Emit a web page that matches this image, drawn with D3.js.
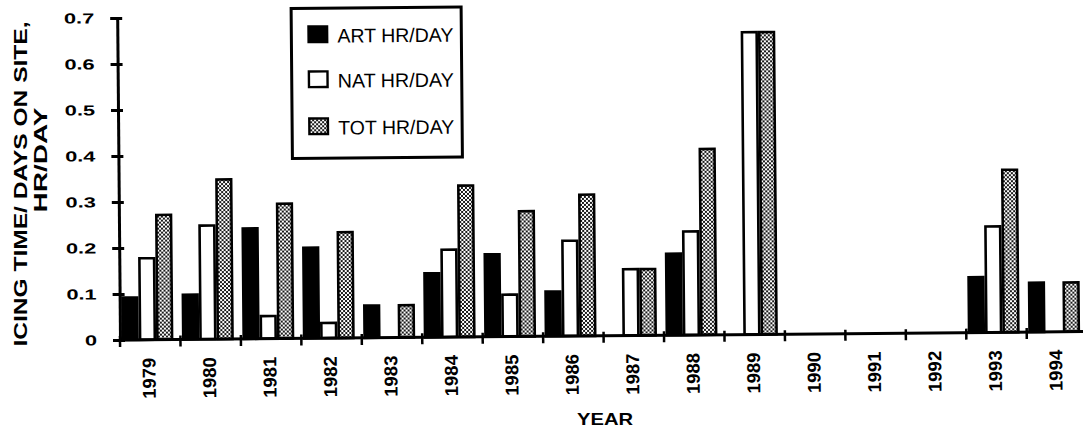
<!DOCTYPE html>
<html>
<head>
<meta charset="utf-8">
<script src="https://cdn.jsdelivr.net/npm/d3@7"></script>
<style>
  body { margin: 0; background: #fff; }
  svg { display: block; font-family: "Liberation Sans", Arial, Helvetica, sans-serif; }
</style>
</head>
<body>
<svg width="1083" height="432"></svg>
<script>
// chart data
const years = ["1979", "1980", "1981", "1982", "1983", "1984", "1985", "1986",
               "1987", "1988", "1989", "1990", "1991", "1992", "1993", "1994"];
const artHr = [0.095, 0.10, 0.243, 0.20, 0.073, 0.142, 0.182, 0.10, 0, 0.18, 0, 0, 0, 0, 0.123, 0.11];
const natHr = [0.18, 0.25, 0.052, 0.036, 0, 0.193, 0.094, 0.21, 0.147, 0.228, 0.66, 0, 0, 0, 0.233, 0];
const totHr = [0.274, 0.35, 0.296, 0.233, 0.073, 0.332, 0.275, 0.31, 0.147, 0.407, 0.66, 0, 0, 0, 0.356, 0.11];
const seriesKeys = ["ART", "NAT", "TOT"];
const legendLabels = ["ART HR/DAY", "NAT HR/DAY", "TOT HR/DAY"];
const yTicks = [0, 0.1, 0.2, 0.3, 0.4, 0.5, 0.6, 0.7];

const svg = d3.select("svg");
const fontFam = '"Liberation Sans", Arial, Helvetica, sans-serif';

// stipple pattern used for the TOT bars
const defs = svg.append("defs");
const pat = defs.append("pattern")
    .attr("id", "stipple")
    .attr("width", 4).attr("height", 4)
    .attr("patternUnits", "userSpaceOnUse");
pat.append("rect").attr("width", 4).attr("height", 4).attr("fill", "#1a1a1a");
pat.append("rect").attr("x", 0).attr("y", 0).attr("width", 2).attr("height", 2).attr("fill", "#fff");
pat.append("rect").attr("x", 2).attr("y", 2).attr("width", 2).attr("height", 2).attr("fill", "#fff");

const left = 120, base = 340;
const bandW = 60.45;

const x = d3.scaleBand()
    .domain(years)
    .range([left, left + bandW * years.length])
    .paddingInner(0).paddingOuter(0);

const xSub = d3.scaleBand()
    .domain(seriesKeys)
    .range([1.5, 1.5 + 17.3 * 3]);

const y = d3.scaleLinear()
    .domain([0, 0.7])
    .range([base, 18]);

// the scan is tilted a little, so the whole plot is turned by half a degree
const g = svg.append("g")
    .attr("transform", `rotate(-0.5, ${left}, ${base})`);

const rows = years.map((yr, i) => ({
    year: yr,
    values: [
        { key: "ART", value: artHr[i] },
        { key: "NAT", value: natHr[i] },
        { key: "TOT", value: totHr[i] }
    ]
}));

const fillFor = k => k === "ART" ? "#000" : (k === "NAT" ? "#fff" : "url(#stipple)");
const sw = 2.6;

const groups = g.selectAll(".year")
    .data(rows)
    .join("g")
    .attr("class", "year")
    .attr("transform", d => `translate(${x(d.year)},0)`);

groups.selectAll("rect")
    .data(d => d.values.filter(v => v.value > 0))
    .join("rect")
    .attr("x", d => xSub(d.key) + sw / 2)
    .attr("width", xSub.bandwidth() - sw)
    .attr("y", d => y(d.value) + sw / 2)
    .attr("height", d => base - y(d.value) - sw / 2)
    .attr("fill", d => fillFor(d.key))
    .attr("stroke", "#000")
    .attr("stroke-width", sw);

// y axis
const yAxis = g.append("g")
    .attr("transform", `translate(${left},0)`)
    .call(d3.axisLeft(y)
        .tickValues(yTicks)
        .tickFormat(d => d === 0 ? "0" : d3.format(".1f")(d))
        .tickSize(0)
        .tickPadding(23))
    .attr("font-family", fontFam);

yAxis.select(".domain").attr("stroke", "#000").attr("stroke-width", 3);
yAxis.selectAll(".tick line")
    .attr("x1", -7).attr("x2", 5)
    .attr("stroke", "#000").attr("stroke-width", 3);
yAxis.selectAll(".tick text")
    .attr("fill", "#000")
    .style("font-size", "14.5px")
    .style("font-weight", "bold")
    .attr("lengthAdjust", "spacingAndGlyphs")
    .attr("textLength", function () { return this.getComputedTextLength() * 1.5; });

// x axis: baseline with ticks at the category boundaries
g.append("line")
    .attr("x1", left).attr("x2", left + bandW * years.length + 10)
    .attr("y1", base).attr("y2", base)
    .attr("stroke", "#000").attr("stroke-width", 3);

g.selectAll(".xtick")
    .data(years)
    .join("line")
    .attr("class", "xtick")
    .attr("x1", d => x(d)).attr("x2", d => x(d))
    .attr("y1", base - 4).attr("y2", base + 7)
    .attr("stroke", "#000").attr("stroke-width", 2.5);

g.selectAll(".xlabel")
    .data(years)
    .join("text")
    .attr("class", "xlabel")
    .attr("transform", d => `translate(${x(d) + x.bandwidth() / 2 - 1.5},${base + 18}) rotate(-90)`)
    .attr("text-anchor", "end")
    .attr("dy", "0.35em")
    .style("font-size", "18.5px")
    .style("font-weight", "bold")
    .text(d => d);

// legend
const legend = g.append("g").attr("transform", "translate(2,2)");
legend.append("rect")
    .attr("x", 292).attr("y", 8)
    .attr("width", 170).attr("height", 150)
    .attr("fill", "#fff").attr("stroke", "#000").attr("stroke-width", 3);

const legendY = [25, 70, 117];
const items = legend.selectAll(".item")
    .data(seriesKeys)
    .join("g")
    .attr("class", "item")
    .attr("transform", (d, i) => `translate(308,${legendY[i]})`);

items.append("rect")
    .attr("x", 1.2).attr("y", 1.2)
    .attr("width", 18.6).attr("height", 15.6)
    .attr("fill", d => fillFor(d))
    .attr("stroke", "#000").attr("stroke-width", 2.4);

items.append("text")
    .attr("x", 30).attr("y", 17.5)
    .style("font-size", "19.5px")
    .attr("lengthAdjust", "spacingAndGlyphs")
    .attr("textLength", 116)
    .text((d, i) => legendLabels[i]);

// axis titles
svg.append("text")
    .attr("transform", "translate(27,184) rotate(-90)")
    .attr("text-anchor", "middle")
    .style("font-size", "18px")
    .style("font-weight", "bold")
    .attr("lengthAdjust", "spacingAndGlyphs")
    .attr("textLength", 325)
    .text("ICING TIME/ DAYS ON SITE,");

svg.append("text")
    .attr("transform", "translate(47,160) rotate(-90)")
    .attr("text-anchor", "middle")
    .style("font-size", "18px")
    .style("font-weight", "bold")
    .attr("lengthAdjust", "spacingAndGlyphs")
    .attr("textLength", 105)
    .text("HR/DAY");

svg.append("text")
    .attr("x", 605).attr("y", 425)
    .attr("text-anchor", "middle")
    .style("font-size", "16.5px")
    .style("font-weight", "bold")
    .attr("lengthAdjust", "spacingAndGlyphs")
    .attr("textLength", 56)
    .text("YEAR");
</script>
</body>
</html>
